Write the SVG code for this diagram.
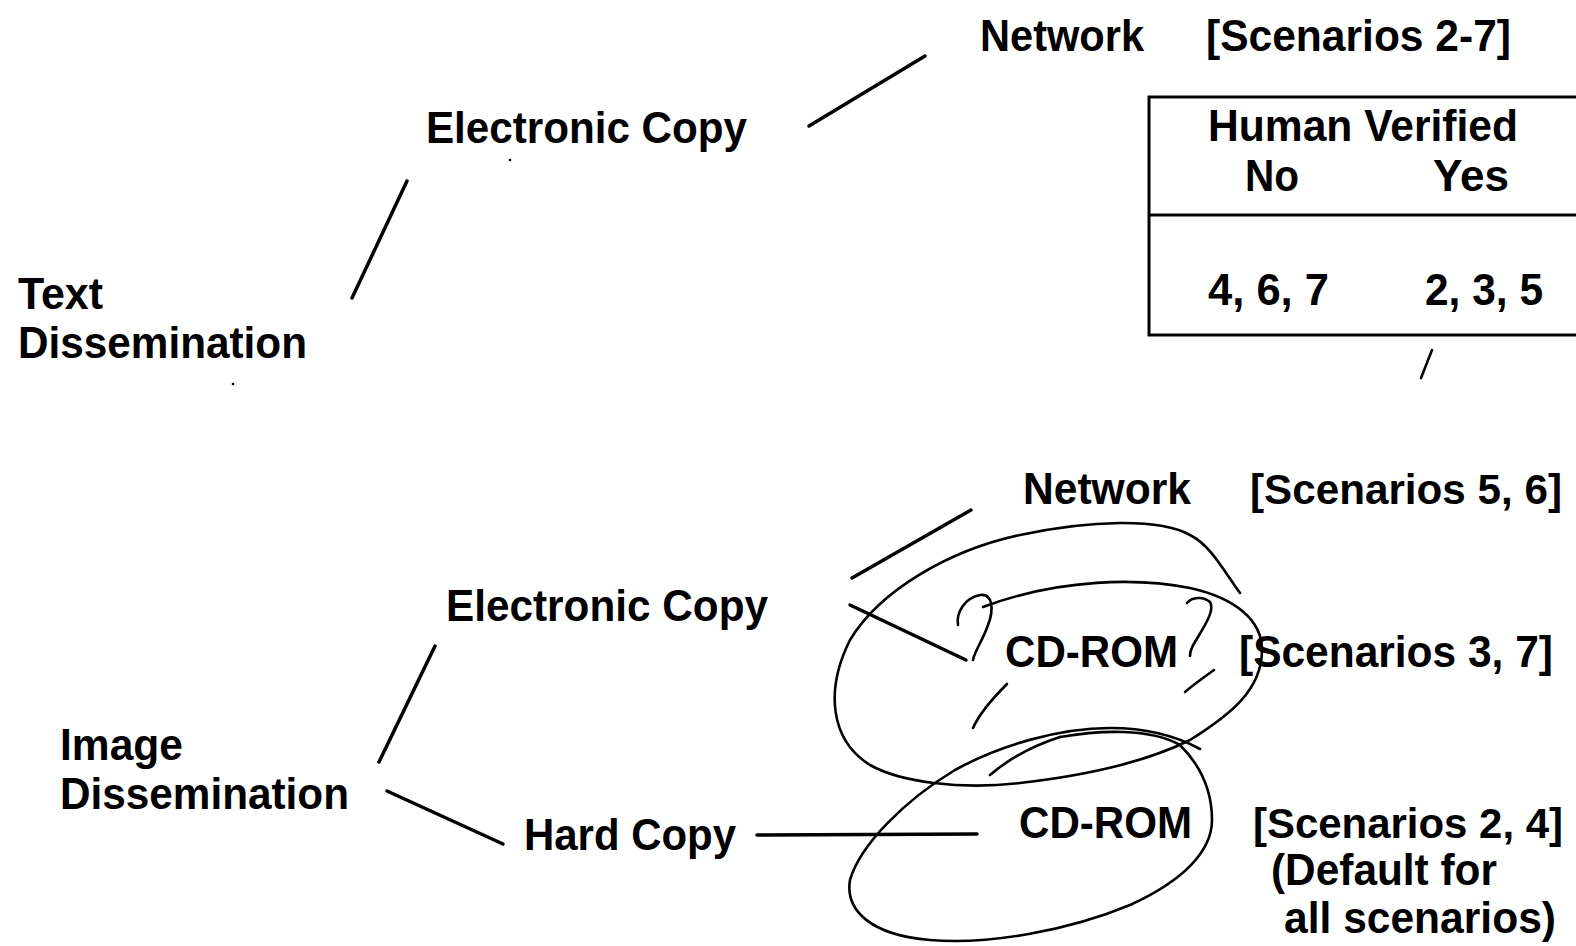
<svg xmlns="http://www.w3.org/2000/svg" width="1576" height="946" viewBox="0 0 1576 946">
  <style>
    .t { font-family: "Liberation Sans", Arial, sans-serif; font-weight: bold; font-size: 45px; fill: #000; }
    .edge { font-size: 43px; }
    .ln { stroke: #000; stroke-width: 3.5; stroke-linecap: round; fill: none; }
    .hand { stroke: #000; stroke-width: 2.6; stroke-linecap: round; stroke-linejoin: round; fill: none; }
    .box { stroke: #000; stroke-width: 3; fill: none; }
  </style>
  <rect width="1576" height="946" fill="#fff"/>

  <!-- connectors -->
  <g id="connectors">
    <line class="ln" x1="407" y1="181" x2="352" y2="298"/>
    <line class="ln" x1="925" y1="56" x2="809" y2="126"/>
    <line class="ln" x1="435" y1="646" x2="379" y2="762"/>
    <line class="ln" x1="387" y1="791" x2="503" y2="844"/>
    <line class="ln" x1="971" y1="510" x2="852" y2="578"/>
    <line class="ln" x1="850" y1="605" x2="966" y2="660"/>
    <line class="ln" x1="757" y1="835" x2="977" y2="834"/>
    <line class="hand" x1="1432" y1="350" x2="1421" y2="378"/>
  </g>

  <!-- text branch -->
  <g id="text-dissemination">
    <text class="t" x="18" y="309" textLength="85" lengthAdjust="spacingAndGlyphs">Text</text>
    <text class="t" x="18" y="358" textLength="289" lengthAdjust="spacingAndGlyphs">Dissemination</text>
  </g>
  <g id="text-electronic-copy">
    <text class="t" x="426" y="143" textLength="321" lengthAdjust="spacingAndGlyphs">Electronic Copy</text>
  </g>
  <g id="text-network">
    <text class="t" x="980" y="51" textLength="164" lengthAdjust="spacingAndGlyphs">Network</text>
    <text class="t" x="1206" y="51" textLength="305" lengthAdjust="spacingAndGlyphs">[Scenarios 2-7]</text>
  </g>
  <g id="human-verified-table">
    <polyline class="box" points="1580,97 1149,97 1149,335 1580,335"/>
    <line class="box" x1="1149" y1="215" x2="1580" y2="215"/>
    <text class="t" x="1208" y="141" textLength="310" lengthAdjust="spacingAndGlyphs">Human Verified</text>
    <text class="t" x="1245" y="191" textLength="54" lengthAdjust="spacingAndGlyphs">No</text>
    <text class="t" x="1433" y="191" textLength="76" lengthAdjust="spacingAndGlyphs">Yes</text>
    <text class="t" x="1208" y="305" textLength="121" lengthAdjust="spacingAndGlyphs">4, 6, 7</text>
    <text class="t" x="1425" y="305" textLength="118" lengthAdjust="spacingAndGlyphs">2, 3, 5</text>
  </g>

  <!-- image branch -->
  <g id="image-dissemination">
    <text class="t" x="60" y="760" textLength="123" lengthAdjust="spacingAndGlyphs">Image</text>
    <text class="t" x="60" y="809" textLength="289" lengthAdjust="spacingAndGlyphs">Dissemination</text>
  </g>
  <g id="image-electronic-copy">
    <text class="t" x="446" y="621" textLength="322" lengthAdjust="spacingAndGlyphs">Electronic Copy</text>
  </g>
  <g id="image-hard-copy">
    <text class="t" x="524" y="850" textLength="212" lengthAdjust="spacingAndGlyphs">Hard Copy</text>
  </g>
  <g id="image-network">
    <text class="t" x="1023" y="504" textLength="168" lengthAdjust="spacingAndGlyphs">Network</text>
    <text class="t edge" x="1250" y="504" textLength="312" lengthAdjust="spacingAndGlyphs">[Scenarios 5, 6]</text>
  </g>
  <g id="image-cdrom-electronic">
    <text class="t" x="1005" y="667" textLength="173" lengthAdjust="spacingAndGlyphs">CD-ROM</text>
    <text class="t" x="1239" y="667" textLength="314" lengthAdjust="spacingAndGlyphs">[Scenarios 3, 7]</text>
  </g>
  <g id="image-cdrom-hard">
    <text class="t" x="1019" y="838" textLength="173" lengthAdjust="spacingAndGlyphs">CD-ROM</text>
    <text class="t edge" x="1253" y="838" textLength="310" lengthAdjust="spacingAndGlyphs">[Scenarios 2, 4]</text>
    <text class="t" x="1271" y="885" textLength="226" lengthAdjust="spacingAndGlyphs">(Default for</text>
    <text class="t" x="1284" y="933" textLength="272" lengthAdjust="spacingAndGlyphs">all scenarios)</text>
  </g>

  <!-- hand-drawn loops and marks -->
  <g id="hand-marks">
    <!-- upper spiral loop round the electronic CD-ROM -->
    <path class="hand" d="M1240,593 C1222,568 1210,545 1190,535 C1160,518 1090,520 1020,535 C950,550 880,590 850,640 C825,690 830,740 870,765 C900,782 960,790 1020,783 C1090,775 1150,760 1190,740 C1230,715 1262,690 1262,650 C1262,620 1235,598 1190,588 C1140,578 1060,578 983,607"/>
    <!-- question-like hooks -->
    <path class="hand" d="M958,625 C956,612 965,598 980,595 C993,593 994,610 988,625 C983,640 975,650 973,660"/>
    <path class="hand" d="M1187,603 C1192,597 1203,596 1210,602 C1215,610 1205,625 1198,637 C1193,645 1190,650 1190,656"/>
    <path class="hand" d="M1007,684 C993,698 980,712 973,728"/>
    <path class="hand" d="M1214,670 C1203,678 1193,685 1185,692"/>
    <!-- lower loop round the hard-copy CD-ROM -->
    <path class="hand" d="M1200,749 C1180,738 1150,728 1110,728 C1060,728 1000,745 955,770 C905,800 860,845 850,880 C845,910 870,935 930,940 C990,945 1070,930 1130,905 C1185,880 1212,850 1212,820 C1212,790 1200,765 1180,745 C1150,728 1100,730 1060,737"/>
    <path class="hand" d="M990,775 C1010,758 1035,745 1060,737"/>
    <circle cx="510" cy="160" r="1.3" fill="#000"/>
    <circle cx="233" cy="384" r="1.3" fill="#000"/>
  </g>
</svg>
